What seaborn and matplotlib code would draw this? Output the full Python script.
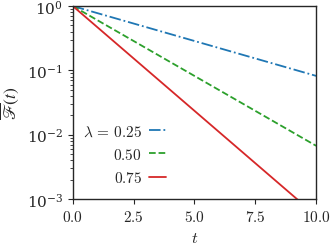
import matplotlib
matplotlib.use("Agg")
import matplotlib.pyplot as plt
import seaborn as sns
import pandas as pd

# values (straight lines on a log axis)
t_vals = [0.0, 10.0]
f_025 = [1.0, 0.082]
f_050 = [1.0, 0.0067]
f_075 = [1.0, 0.00055]
labels = [r"$\lambda\,=\,0.25$", "$0.50$", "$0.75$"]
colors = ["#1f77b4", "#2ca02c", "#d62728"]
styles = ["-.", "--", "-"]
xticks = [0, 2.5, 5, 7.5, 10]
xticklabels = ["$0.0$", "$2.5$", "$5.0$", "$7.5$", "$10.0$"]

sns.set_style("ticks")
plt.rcParams["font.family"] = ["DejaVu Serif"]
plt.rcParams["mathtext.fontset"] = "cm"

fig, ax = plt.subplots(figsize=(3.31, 2.53), dpi=100)

for vals, lab, col, ls in zip([f_025, f_050, f_075], labels, colors, styles):
    df = pd.DataFrame({"t": t_vals, "F": vals})
    sns.lineplot(data=df, x="t", y="F", ax=ax, color=col, linestyle=ls,
                 label=lab, lw=1.3)

ax.set_yscale("log")
ax.set_xlim(0, 10)
ax.set_ylim(1e-3, 1)
ax.set_xticks(xticks)
ax.set_xticklabels(xticklabels)
ax.set_xlabel(r"$t$", fontsize=11.5)
ax.set_ylabel(r"$\overline{\mathscr{F}}(t)$", fontsize=12.5,
              math_fontfamily="stix")
ax.tick_params(labelsize=11)
for s in ax.spines.values():
    s.set_visible(True)
    s.set_linewidth(1.0)

ax.legend(loc="lower left", bbox_to_anchor=(-0.015, 0.0), frameon=False,
          markerfirst=False, handlelength=1.15, fontsize=11,
          labelspacing=0.55, handletextpad=0.45)

fig.subplots_adjust(left=0.22, right=0.955, top=0.972, bottom=0.21)
fig.savefig("out.png", dpi=100)
